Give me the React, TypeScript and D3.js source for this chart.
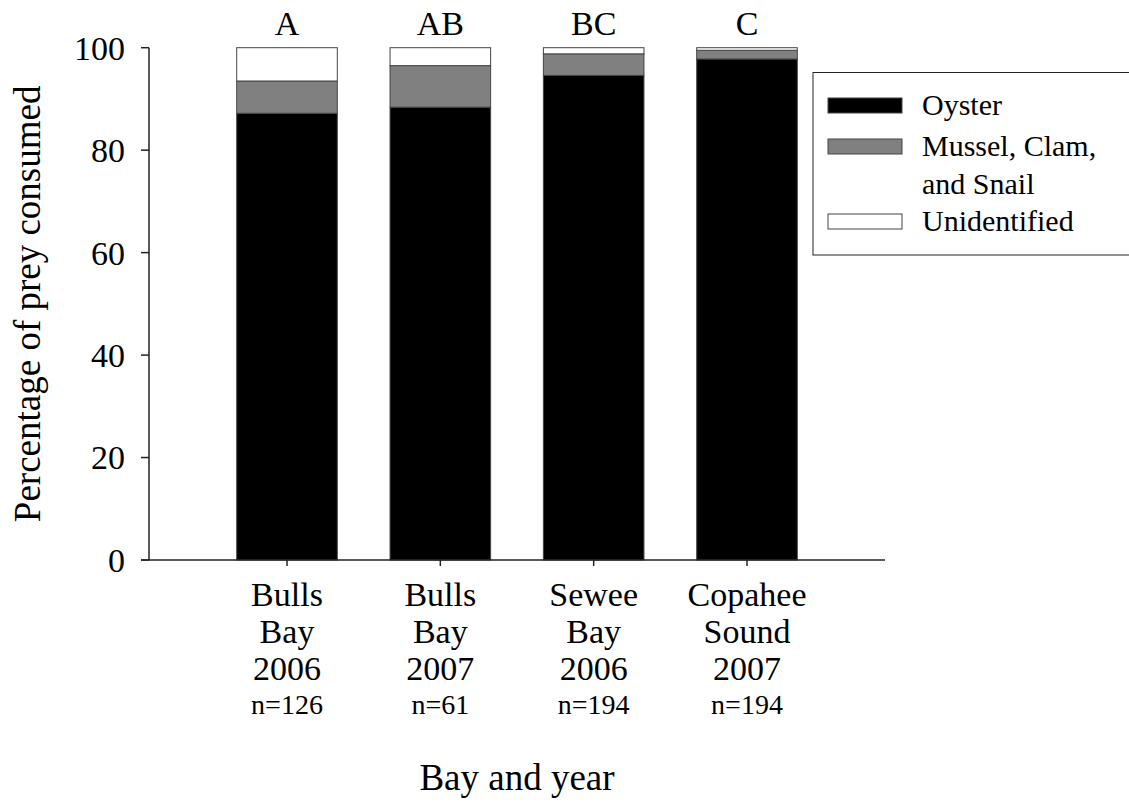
import React from "react";
import * as d3 from "d3";

const categories = ["Bulls Bay 2006", "Bulls Bay 2007", "Sewee Bay 2006", "Copahee Sound 2007"];
const categoryLines = [
  ["Bulls", "Bay", "2006"],
  ["Bulls", "Bay", "2007"],
  ["Sewee", "Bay", "2006"],
  ["Copahee", "Sound", "2007"],
];
const sampleSizes = ["n=126", "n=61", "n=194", "n=194"];
const letters = ["A", "AB", "BC", "C"];
const oyster = [87.2, 88.4, 94.6, 97.8];
const musselClamSnail = [6.3, 8.1, 4.2, 1.7];
const unidentified = [6.5, 3.5, 1.2, 0.5];
const seriesNames = ["Oyster", "Mussel, Clam, and Snail", "Unidentified"];
const seriesColors = ["#000000", "#808080", "#ffffff"];
const yTicks = [0, 20, 40, 60, 80, 100];

const FF = "Liberation Serif, Times New Roman, serif";
const T: React.CSSProperties = { fontFamily: FF, fontWeight: 400 };

export default function App() {
  const width = 1129;
  const height = 809;
  const x = d3
    .scaleBand<string>()
    .domain(categories)
    .range([149, 885])
    .paddingInner(0.344)
    .paddingOuter(0.572);
  const y = d3.scaleLinear().domain([0, 100]).range([560, 47.7]);

  const rows = categories.map((c, i) => ({
    cat: c,
    Oyster: oyster[i],
    "Mussel, Clam, and Snail": musselClamSnail[i],
    Unidentified: unidentified[i],
  }));
  const stacked = d3.stack<any>().keys(seriesNames)(rows);

  return (
    <svg width={width} height={height} fontFamily={FF} style={{ position: "absolute", left: 0, top: 0, background: "#fff" }}>
      {stacked.map((layer, li) => (
        <g key={li}>
          {layer.map((d, i) => (
            <rect
              key={i}
              x={x(categories[i])!}
              y={y(d[1])}
              width={x.bandwidth()}
              height={y(d[0]) - y(d[1])}
              fill={seriesColors[li]}
              stroke="#444"
              strokeWidth={1}
            />
          ))}
        </g>
      ))}

      <line x1={149} x2={149} y1={y(100)} y2={y(0)} stroke="#222" strokeWidth={1.5} />
      {yTicks.map((t) => (
        <g key={t}>
          <line x1={141} x2={149} y1={y(t)} y2={y(t)} stroke="#222" strokeWidth={1.5} />
          <text x={125} y={y(t)} dy="0.35em" textAnchor="end" fontSize={34} style={T}>
            {t}
          </text>
        </g>
      ))}
      <line x1={141} x2={885} y1={y(0)} y2={y(0)} stroke="#222" strokeWidth={1.5} />
      {categories.map((c, i) => {
        const cx = x(c)! + x.bandwidth() / 2;
        return (
          <g key={c}>
            <line x1={cx} x2={cx} y1={y(0)} y2={y(0) + 6} stroke="#222" strokeWidth={1.5} />
            {categoryLines[i].map((ln, k) => (
              <text key={k} x={cx} y={606 + k * 37} textAnchor="middle" fontSize={34} style={T}>
                {ln}
              </text>
            ))}
            <text x={cx} y={714} textAnchor="middle" fontSize={28} style={T}>
              {sampleSizes[i]}
            </text>
            <text x={cx} y={35} textAnchor="middle" fontSize={34} style={T}>
              {letters[i]}
            </text>
          </g>
        );
      })}

      <text
        transform={`translate(40,${(y(0) + y(100)) / 2}) rotate(-90)`}
        textAnchor="middle"
        fontSize={37}
        style={T}
      >
        Percentage of prey consumed
      </text>
      <text x={517} y={790} textAnchor="middle" fontSize={37} style={T}>
        Bay and year
      </text>

      <rect x={813} y={72.5} width={330} height={182.5} fill="#fff" stroke="#222" strokeWidth={1} />
      {[
        { lines: ["Oyster"], sy: 98 },
        { lines: ["Mussel, Clam,", "and Snail"], sy: 139 },
        { lines: ["Unidentified"], sy: 214 },
      ].map((item, i) => (
        <g key={i}>
          <rect x={828} y={item.sy} width={74} height={15} fill={seriesColors[i]} stroke="#444" strokeWidth={1} />
          {item.lines.map((ln, k) => (
            <text key={k} x={922} y={item.sy + 17 + k * 38} fontSize={30} style={T}>
              {ln}
            </text>
          ))}
        </g>
      ))}
    </svg>
  );
}
